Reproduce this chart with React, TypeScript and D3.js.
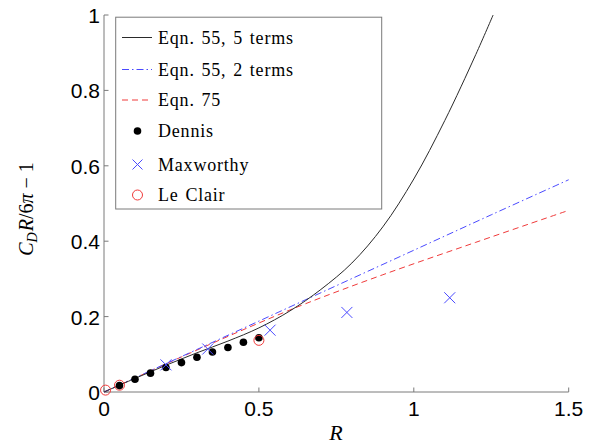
import React from "react";
import * as d3 from "d3";

const W = 595;
const H = 445;

// Eqn. 55, 5 terms (black solid) [R, value]
const eqn55five: [number, number][] = [
  [0, 0], [0.1, 0.036], [0.2, 0.071], [0.3, 0.104], [0.4, 0.135], [0.5, 0.17],
  [0.6, 0.215], [0.7, 0.272], [0.8, 0.342], [0.9, 0.438], [1.0, 0.565],
  [1.1, 0.72], [1.2, 0.895], [1.256, 1.0],
];
// Eqn. 55, 2 terms (blue dash-dot)
const eqn55two: [number, number][] = [
  [0, 0], [0.25, 0.094], [0.5, 0.188], [0.75, 0.282], [1.0, 0.376], [1.25, 0.47], [1.5, 0.563],
];
// Eqn. 75 (red dashed)
const eqn75: [number, number][] = [
  [0, 0], [0.1, 0.037], [0.25, 0.093], [0.5, 0.183], [0.65, 0.234], [0.9, 0.311], [1.2, 0.397], [1.49, 0.479],
];
// Dennis (black dots)
const dennis: [number, number][] = [
  [0.05, 0.017], [0.1, 0.034], [0.15, 0.05], [0.2, 0.065], [0.25, 0.078],
  [0.3, 0.092], [0.35, 0.106], [0.4, 0.118], [0.45, 0.132], [0.5, 0.144],
];
// Maxworthy (blue crosses)
const maxworthy: [number, number][] = [
  [0.2, 0.072], [0.335, 0.114], [0.536, 0.164], [0.784, 0.211], [1.116, 0.25],
];
// Le Clair (red open circles)
const leClair: [number, number][] = [
  [0.005, 0.005], [0.05, 0.018], [0.5, 0.137],
];

const xTicks = [0, 0.5, 1, 1.5];
const yTicks = [0, 0.2, 0.4, 0.6, 0.8, 1];
const legendLabels = ["Eqn. 55, 5 terms", "Eqn. 55, 2 terms", "Eqn. 75", "Dennis", "Maxworthy", "Le Clair"];

const BLUE = "#4a4aff";
const RED = "#f03a3a";
const AXIS = "#7a7a7a";

export default function App() {
  const x = d3.scaleLinear().domain([0, 1.5]).range([104, 568.7]);
  const y = d3.scaleLinear().domain([0, 1]).range([392, 15]);
  const line = d3.line<[number, number]>().x((d) => x(d[0])).y((d) => y(d[1])).curve(d3.curveCatmullRom.alpha(0.5));

  const cross = (cx: number, cy: number, s: number, key: string) => (
    <path key={key} d={`M${cx - s},${cy - s}L${cx + s},${cy + s}M${cx - s},${cy + s}L${cx + s},${cy - s}`} stroke={BLUE} strokeWidth={1} fill="none" />
  );

  const legY = [37.5, 69.5, 100, 131, 164.5, 195];
  const tickFont = "'Liberation Sans', Arial, Helvetica, sans-serif";
  const serif = "'Liberation Serif', 'Times New Roman', serif";

  return (
    <svg width={W} height={H} style={{ position: "absolute", left: 0, top: 0, background: "#fff" }}>
      <rect x={0} y={0} width={W} height={H} fill="#fff" />
      {/* axes */}
      <line x1={x(0)} x2={x(0)} y1={y(0)} y2={y(1)} stroke={AXIS} strokeWidth={1} />
      <line x1={x(0)} x2={x(1.5)} y1={y(0)} y2={y(0)} stroke={AXIS} strokeWidth={1} />
      {yTicks.map((t) => (
        <g key={"yt" + t}>
          <line x1={x(0)} x2={x(0) + 4.5} y1={y(t)} y2={y(t)} stroke={AXIS} />
          <text x={100} y={y(t) + 8} textAnchor="end" fontFamily={tickFont} fontSize={21} fill="#000">{String(t)}</text>
        </g>
      ))}
      {xTicks.map((t) => (
        <g key={"xt" + t}>
          <line x1={x(t)} x2={x(t)} y1={y(0)} y2={y(0) - 4.5} stroke={AXIS} />
          <text x={x(t)} y={416} textAnchor="middle" fontFamily={tickFont} fontSize={21} fill="#000">{String(t)}</text>
        </g>
      ))}
      {/* axis labels */}
      <text x={336} y={440} textAnchor="middle" fontFamily={serif} fontStyle="italic" fontSize={22} fill="#000">R</text>
      <text transform="translate(33,209) rotate(-90)" textAnchor="middle" fontFamily={serif} fontSize={20} fill="#000">
        <tspan fontStyle="italic">C</tspan>
        <tspan fontStyle="italic" fontSize={14} dy={4}>D</tspan>
        <tspan fontStyle="italic" dy={-4} dx={1}>R</tspan>
        <tspan>/6</tspan>
        <tspan fontStyle="italic">π</tspan>
        <tspan> − 1</tspan>
      </text>

      {/* curves */}
      <path d={line(eqn75) || ""} fill="none" stroke={RED} strokeWidth={1} strokeDasharray="6,4" />
      <path d={line(eqn55two) || ""} fill="none" stroke={BLUE} strokeWidth={1} strokeDasharray="7,3,1.5,3" />
      <path d={line(eqn55five) || ""} fill="none" stroke="#2a2a2a" strokeWidth={1} />

      {/* markers */}
      {dennis.map((d, i) => <circle key={"dn" + i} cx={x(d[0])} cy={y(d[1])} r={3.8} fill="#000" />)}
      {maxworthy.map((d, i) => cross(x(d[0]), y(d[1]), 5.5, "mx" + i))}
      {leClair.map((d, i) => <circle key={"lc" + i} cx={x(d[0])} cy={y(d[1])} r={5} fill="none" stroke={RED} strokeWidth={1} />)}

      {/* legend */}
      <rect x={115.7} y={17.2} width={266} height={191.8} fill="#fff" stroke={AXIS} strokeWidth={1} />
      <line x1={122} x2={152} y1={legY[0]} y2={legY[0]} stroke="#2a2a2a" strokeWidth={1} />
      <line x1={122} x2={152} y1={legY[1]} y2={legY[1]} stroke={BLUE} strokeWidth={1} strokeDasharray="7,3,1.5,3" />
      <line x1={122} x2={152} y1={legY[2]} y2={legY[2]} stroke={RED} strokeWidth={1} strokeDasharray="6,4" />
      <circle cx={137.5} cy={legY[3]} r={3.8} fill="#000" />
      {cross(137.5, legY[4], 5, "legx")}
      <circle cx={137.5} cy={legY[5]} r={5} fill="none" stroke={RED} strokeWidth={1} />
      {legendLabels.map((l, i) => (
        <text key={"lg" + i} x={158} y={legY[i] + 6} fontFamily={serif} fontSize={18} letterSpacing={0.8} wordSpacing={1.5} fill="#000">{l}</text>
      ))}
    </svg>
  );
}
